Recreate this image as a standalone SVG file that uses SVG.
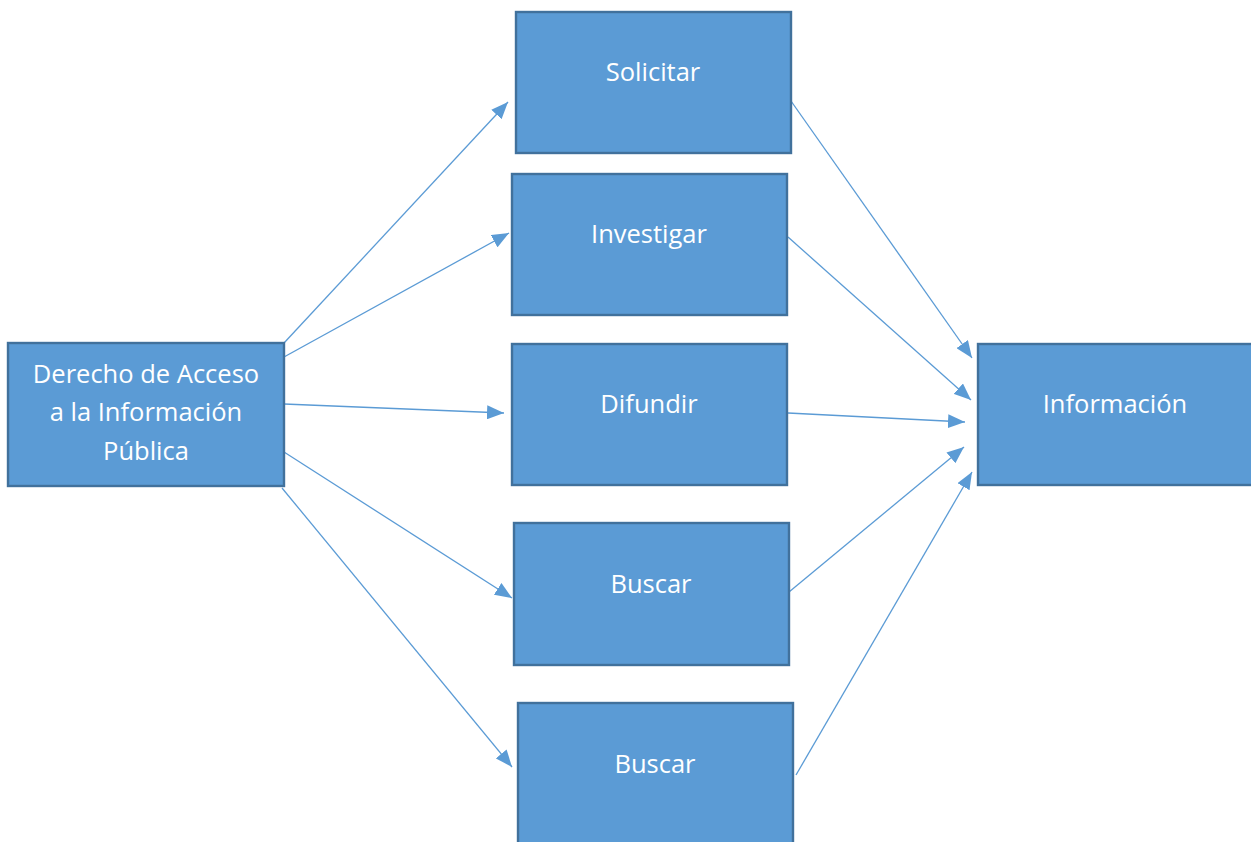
<svg xmlns="http://www.w3.org/2000/svg" width="1251" height="842" viewBox="0 0 1251 842">
  <defs>
    <style>
      .box { fill: #5B9BD5; stroke: #41719C; stroke-width: 2.4; }
      .lbl { fill: #FFFFFF; font-family: "Open Sans", "Liberation Sans", sans-serif; font-size: 25.5px; text-anchor: middle; dominant-baseline: central; }
      .link { stroke: #5B9BD5; stroke-width: 1.3; fill: none; marker-end: url(#head); }
    </style>
    <marker id="head" markerUnits="userSpaceOnUse" markerWidth="18" markerHeight="14" refX="17" refY="7" orient="auto">
      <path d="M0,0 L17,7 L0,14 Z" fill="#5B9BD5"/>
    </marker>
  </defs>
  <rect width="1251" height="842" fill="#FFFFFF"/>

  <!-- connectors -->
  <g id="connectors">
    <line class="link" x1="284" y1="343" x2="508" y2="102"/>
    <line class="link" x1="284" y1="357" x2="509" y2="233"/>
    <line class="link" x1="284" y1="404" x2="504" y2="413"/>
    <line class="link" x1="284" y1="452" x2="512" y2="598"/>
    <line class="link" x1="282" y1="488" x2="512" y2="767"/>
    <line class="link" x1="791" y1="101" x2="972" y2="358"/>
    <line class="link" x1="788" y1="237" x2="971" y2="400"/>
    <line class="link" x1="788" y1="413" x2="965" y2="422"/>
    <line class="link" x1="789" y1="592" x2="964" y2="447"/>
    <line class="link" x1="796" y1="775" x2="972" y2="472"/>
  </g>

  <!-- source node -->
  <g id="node-derecho">
    <rect class="box" x="8" y="343" width="276" height="143"/>
    <text class="lbl" x="146" y="373">Derecho de Acceso</text>
    <text class="lbl" x="146" y="411">a la Información</text>
    <text class="lbl" x="146" y="450">Pública</text>
  </g>

  <!-- middle column -->
  <g id="node-solicitar">
    <rect class="box" x="516" y="12" width="275" height="141"/>
    <text class="lbl" x="653" y="71">Solicitar</text>
  </g>
  <g id="node-investigar">
    <rect class="box" x="512" y="174" width="275" height="141"/>
    <text class="lbl" x="649" y="233">Investigar</text>
  </g>
  <g id="node-difundir">
    <rect class="box" x="512" y="344" width="275" height="141"/>
    <text class="lbl" x="649" y="403">Difundir</text>
  </g>
  <g id="node-buscar-1">
    <rect class="box" x="514" y="523" width="275" height="142"/>
    <text class="lbl" x="651" y="583">Buscar</text>
  </g>
  <g id="node-buscar-2">
    <rect class="box" x="518" y="703" width="275" height="150"/>
    <text class="lbl" x="655" y="763">Buscar</text>
  </g>

  <!-- target node -->
  <g id="node-informacion">
    <rect class="box" x="978" y="344" width="285" height="141"/>
    <text class="lbl" x="1115" y="403">Información</text>
  </g>
</svg>
